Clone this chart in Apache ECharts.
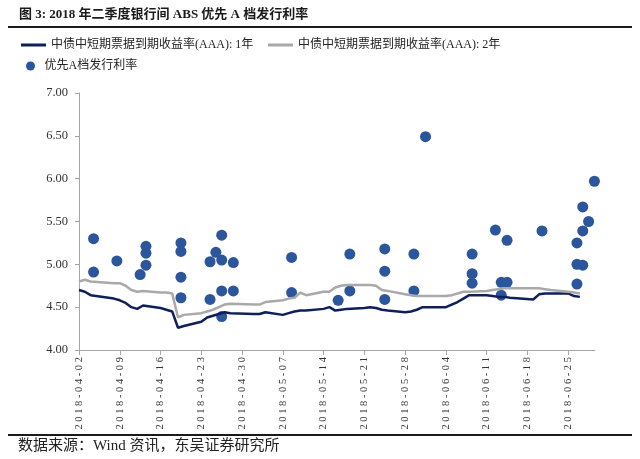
<!DOCTYPE html>
<html>
<head>
<meta charset="utf-8">
<script src="https://cdn.jsdelivr.net/npm/echarts@6/dist/echarts.min.js"></script>
<style>
  html, body { margin: 0; padding: 0; background: #fff; }
  #chart { width: 640px; height: 459px; }
</style>
</head>
<body>
<div id="chart"></div>
<script>
const NAME_1Y = '中债中短期票据到期收益率(AAA): 1年';
const NAME_2Y = '中债中短期票据到期收益率(AAA): 2年';
const NAME_ABS = '优先A档发行利率';

// 收益率曲线（交易日）
const lineDates = [
  '2018-04-02', '2018-04-03', '2018-04-04', '2018-04-08', '2018-04-09', '2018-04-10', '2018-04-11', '2018-04-12', '2018-04-13',
  '2018-04-16', '2018-04-17', '2018-04-18', '2018-04-19', '2018-04-20',
  '2018-04-23', '2018-04-24', '2018-04-25', '2018-04-26', '2018-04-27', '2018-04-28',
  '2018-05-02', '2018-05-03', '2018-05-04',
  '2018-05-07', '2018-05-08', '2018-05-09', '2018-05-10', '2018-05-11',
  '2018-05-14', '2018-05-15', '2018-05-16', '2018-05-17', '2018-05-18',
  '2018-05-21', '2018-05-22', '2018-05-23', '2018-05-24', '2018-05-25',
  '2018-05-28', '2018-05-29', '2018-05-30', '2018-05-31', '2018-06-01',
  '2018-06-04', '2018-06-05', '2018-06-06', '2018-06-07', '2018-06-08',
  '2018-06-11', '2018-06-12', '2018-06-13', '2018-06-14', '2018-06-15',
  '2018-06-19', '2018-06-20', '2018-06-21', '2018-06-22',
  '2018-06-25', '2018-06-26', '2018-06-27'
];
const yield1y = [
  4.70, 4.68, 4.64, 4.60, 4.58, 4.55, 4.50, 4.48, 4.52,
  4.49, 4.47, 4.45, 4.26, 4.28,
  4.33, 4.38, 4.40, 4.42, 4.44, 4.43,
  4.42, 4.42, 4.44,
  4.41, 4.43, 4.45, 4.46, 4.46,
  4.48, 4.50, 4.46, 4.47, 4.48,
  4.49, 4.50, 4.49, 4.47, 4.46,
  4.44, 4.45, 4.47, 4.50, 4.50,
  4.50, 4.53, 4.56, 4.60, 4.64,
  4.64, 4.63, 4.62, 4.62, 4.61,
  4.59, 4.65, 4.66, 4.66,
  4.66, 4.63, 4.62
];
const yield2y = [
  4.80, 4.82, 4.80, 4.78, 4.78, 4.75, 4.70, 4.68, 4.69,
  4.67, 4.67, 4.66, 4.38, 4.41,
  4.43, 4.45, 4.47, 4.50, 4.53, 4.54,
  4.53, 4.53, 4.56,
  4.58, 4.60, 4.61, 4.67, 4.64,
  4.68, 4.68, 4.73, 4.75, 4.76,
  4.76, 4.76, 4.75, 4.70, 4.69,
  4.65, 4.64, 4.63, 4.63, 4.63,
  4.63, 4.64, 4.66, 4.68, 4.68,
  4.69, 4.70, 4.71, 4.72, 4.72,
  4.72, 4.72, 4.71, 4.70,
  4.68, 4.67, 4.66
];

// 优先A档发行利率
const issueDates = [
  '2018-04-04', '2018-04-04', '2018-04-08', '2018-04-12', '2018-04-13', '2018-04-13', '2018-04-13',
  '2018-04-19', '2018-04-19', '2018-04-19', '2018-04-19', '2018-04-24', '2018-04-24', '2018-04-25',
  '2018-04-26', '2018-04-26', '2018-04-26', '2018-04-26', '2018-04-28', '2018-04-28',
  '2018-05-08', '2018-05-08', '2018-05-16', '2018-05-18', '2018-05-18',
  '2018-05-24', '2018-05-24', '2018-05-24', '2018-05-29', '2018-05-29', '2018-05-31',
  '2018-06-08', '2018-06-08', '2018-06-08', '2018-06-12', '2018-06-13', '2018-06-13',
  '2018-06-14', '2018-06-14', '2018-06-20',
  '2018-06-26', '2018-06-26', '2018-06-26', '2018-06-27', '2018-06-27', '2018-06-27',
  '2018-06-28', '2018-06-29'
];
const issueRates = [
  5.30, 4.91, 5.04, 4.88, 5.21, 5.13, 4.99,
  5.25, 5.15, 4.85, 4.61, 5.03, 4.59, 5.14,
  5.34, 5.05, 4.69, 4.39, 5.02, 4.69,
  5.08, 4.67, 4.58, 5.12, 4.69,
  5.18, 4.92, 4.59, 5.12, 4.69, 6.49,
  5.12, 4.89, 4.78, 5.40, 4.79, 4.64,
  5.28, 4.79, 5.39,
  5.25, 5.00, 4.77, 4.99, 5.39, 5.67,
  5.50, 5.97
];

const tickDates = [
  '2018-04-02', '2018-04-09', '2018-04-16', '2018-04-23', '2018-04-30', '2018-05-07', '2018-05-14',
  '2018-05-21', '2018-05-28', '2018-06-04', '2018-06-11', '2018-06-18', '2018-06-25'
];

const START = Date.UTC(2018, 3, 2);
function dayOf(s) {
  const [y, m, d] = s.split('-').map(Number);
  return (Date.UTC(y, m - 1, d) - START) / 86400000;
}
function dateOf(n) {
  return new Date(START + Math.round(n) * 86400000).toISOString().slice(0, 10);
}

const tickDays = tickDates.map(dayOf);
const axisEnd = dayOf('2018-06-29') + 0.6;
// 发行点落在当日区间中部
const pointShift = 0.5;

const serifCJK = '"Liberation Serif", "Noto Sans CJK SC", serif';
const axisGray = '#a6a6a6';
const legendText = { fontFamily: serifCJK, fontSize: 12, color: '#222' };

const chart = echarts.init(document.getElementById('chart'));
chart.setOption({
  animation: false,
  title: {
    text: '图 3: 2018 年二季度银行间 ABS 优先 A 档发行利率',
    left: 14,
    top: 3,
    textStyle: { fontFamily: serifCJK, fontSize: 13, fontWeight: 'bold', color: '#1a1a1a' }
  },
  legend: [
    {
      left: 21, top: 39, padding: 0, itemWidth: 25, itemHeight: 3, itemGap: 0,
      textStyle: legendText,
      data: [{ name: NAME_1Y, icon: 'rect' }]
    },
    {
      left: 268, top: 39, padding: 0, itemWidth: 25, itemHeight: 3, itemGap: 0,
      textStyle: legendText,
      data: [{ name: NAME_2Y, icon: 'rect' }]
    },
    {
      left: 26, top: 60, padding: 0, itemWidth: 18, itemHeight: 9, itemGap: 0,
      textStyle: legendText,
      data: [{ name: NAME_ABS, icon: 'circle' }]
    }
  ],
  grid: { left: 79, right: 45, top: 93, bottom: 109 },
  xAxis: [
    {
      type: 'value',
      min: 0,
      max: axisEnd,
      interval: 7,
      splitLine: { show: false },
      axisLine: { lineStyle: { color: axisGray, width: 1 } },
      axisTick: { length: 5, lineStyle: { color: axisGray }, customValues: tickDays },
      axisLabel: {
        customValues: tickDays,
        rotate: 90,
        margin: 7,
        fontFamily: '"Liberation Serif", serif',
        fontSize: 10.5,
        color: '#333',
        formatter: v => dateOf(v).split('').join(' ')
      }
    },
    {
      type: 'value',
      min: -pointShift,
      max: axisEnd - pointShift,
      show: false
    }
  ],
  yAxis: {
    type: 'value',
    min: 4,
    max: 7,
    interval: 0.5,
    splitLine: { show: false },
    axisLine: { show: true, lineStyle: { color: axisGray, width: 1 } },
    axisTick: { show: true, length: 4, lineStyle: { color: axisGray } },
    axisLabel: {
      margin: 11,
      fontFamily: '"Liberation Serif", serif',
      fontSize: 12.5,
      color: '#333',
      formatter: v => v.toFixed(2)
    }
  },
  series: [
    {
      name: NAME_1Y,
      type: 'line',
      xAxisIndex: 0,
      showSymbol: false,
      data: lineDates.map((d, i) => [dayOf(d), yield1y[i]]),
      lineStyle: { color: '#0e1f5b', width: 2.5 },
      itemStyle: { color: '#0e1f5b' }
    },
    {
      name: NAME_2Y,
      type: 'line',
      xAxisIndex: 0,
      showSymbol: false,
      data: lineDates.map((d, i) => [dayOf(d), yield2y[i]]),
      lineStyle: { color: '#a9a9a9', width: 2.5 },
      itemStyle: { color: '#a9a9a9' }
    },
    {
      name: NAME_ABS,
      type: 'scatter',
      xAxisIndex: 1,
      symbolSize: 11,
      clip: false,
      data: issueDates.map((d, i) => [dayOf(d), issueRates[i]]),
      itemStyle: { color: '#2b569b', opacity: 1 }
    }
  ],
  graphic: [
    {
      type: 'line',
      shape: { x1: 8, y1: 27, x2: 632, y2: 27 },
      style: { stroke: '#1a1a1a', lineWidth: 2 }
    },
    {
      type: 'line',
      shape: { x1: 8, y1: 435, x2: 632, y2: 435 },
      style: { stroke: '#1a1a1a', lineWidth: 2 }
    },
    {
      type: 'text',
      left: 18,
      top: 439,
      style: {
        text: '数据来源：Wind 资讯，东吴证券研究所',
        font: '15px "Liberation Serif", "Noto Sans CJK SC", serif',
        fill: '#222'
      }
    }
  ]
});
</script>
</body>
</html>
